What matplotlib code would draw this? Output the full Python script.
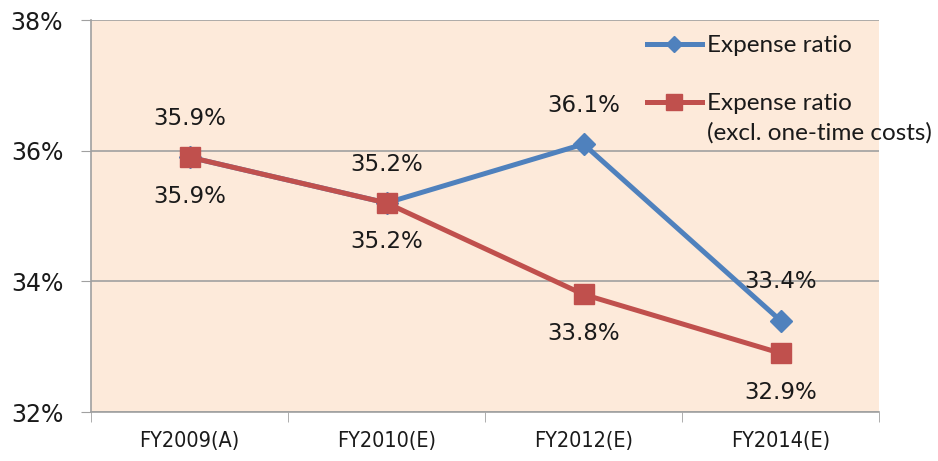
import matplotlib
matplotlib.use("Agg")
import matplotlib.pyplot as plt
from matplotlib.lines import Line2D

categories = ["FY2009(A)", "FY2010(E)", "FY2012(E)", "FY2014(E)"]
expense_ratio = [35.9, 35.2, 36.1, 33.4]
expense_ratio_excl = [35.9, 35.2, 33.8, 32.9]
yticks = [32, 34, 36, 38]
ytick_labels = ["32%", "34%", "36%", "38%"]
legend_labels = ["Expense ratio", "Expense ratio", "(excl. one-time costs)"]

BLUE = "#4F81BD"
RED = "#C0504D"
BG = "#FDEADA"
GRID = "#A0A0A0"

W, H = 938, 461
fig = plt.figure(figsize=(W / 100, H / 100), dpi=100)
L, R, T, B = 91, 879, 20, 412
ax = fig.add_axes([L / W, 1 - B / H, (R - L) / W, (B - T) / H])
ax.set_facecolor(BG)

x = list(range(len(categories)))
ax.plot(x, expense_ratio, color=BLUE, lw=3.6, marker="D", ms=11,
        mec=BLUE, mfc=BLUE, zorder=3, solid_joinstyle="round")
ax.plot(x, expense_ratio_excl, color=RED, lw=3.6, marker="s", ms=14,
        mec=RED, mfc=RED, zorder=4, solid_joinstyle="round")

lab_font = dict(family="DejaVu Sans", fontsize=16.5, color="#1a1a1a")
for xi, v in zip(x, expense_ratio):
    ax.annotate(f"{v:.1f}%", (xi, v), xytext=(0, 28), textcoords="offset points",
                ha="center", va="center", zorder=5, **lab_font)
for xi, v in zip(x, expense_ratio_excl):
    ax.annotate(f"{v:.1f}%", (xi, v), xytext=(0, -28), textcoords="offset points",
                ha="center", va="center", zorder=5, **lab_font)

ax.set_xlim(-0.5, len(categories) - 0.5)
ax.set_ylim(32, 38)
ax.set_yticks(yticks)
ax.set_yticklabels(ytick_labels, family="DejaVu Sans", fontsize=17, color="#1a1a1a")
ax.yaxis.grid(True, color=GRID, lw=1.2)
ax.set_axisbelow(True)

ax.set_xticks(x)
ax.set_xticklabels(categories, family="DejaVu Sans", fontstretch="condensed",
                   fontsize=15.5, color="#1a1a1a")
ax.set_xticks([i - 0.5 for i in range(len(categories) + 1)], minor=True)
ax.tick_params(axis="x", which="major", length=0, pad=14)
ax.tick_params(axis="x", which="minor", length=7, color=GRID, direction="out")
ax.tick_params(axis="y", length=7, color=GRID, direction="out", pad=13)

for s in ["top", "right"]:
    ax.spines[s].set_visible(False)
for s in ["left", "bottom"]:
    ax.spines[s].set_color(GRID)
    ax.spines[s].set_linewidth(1.2)

def axc(px, py):
    return ((px - L) / (R - L), (B - py) / (B - T))

leg_font = dict(family="Lato", fontsize=17.5, color="#1a1a1a")
for (py, col, mk, ms) in [(44, BLUE, "D", 8), (102, RED, "s", 11)]:
    x0, y0 = axc(647, py)
    x1, _ = axc(702, py)
    xm, _ = axc(674, py)
    ax.add_line(Line2D([x0, x1], [y0, y0], transform=ax.transAxes, color=col,
                       lw=3.6, clip_on=False, zorder=6))
    ax.add_line(Line2D([xm], [y0], transform=ax.transAxes, color=col, marker=mk,
                       ms=ms, mec=col, mfc=col, clip_on=False, zorder=7))
for py, lbl in zip([44, 102, 131], legend_labels):
    tx, ty = axc(707, py)
    ax.text(tx, ty, lbl, transform=ax.transAxes, ha="left", va="center_baseline",
            clip_on=False, zorder=7, **leg_font)

fig.savefig("out.png", dpi=100)
